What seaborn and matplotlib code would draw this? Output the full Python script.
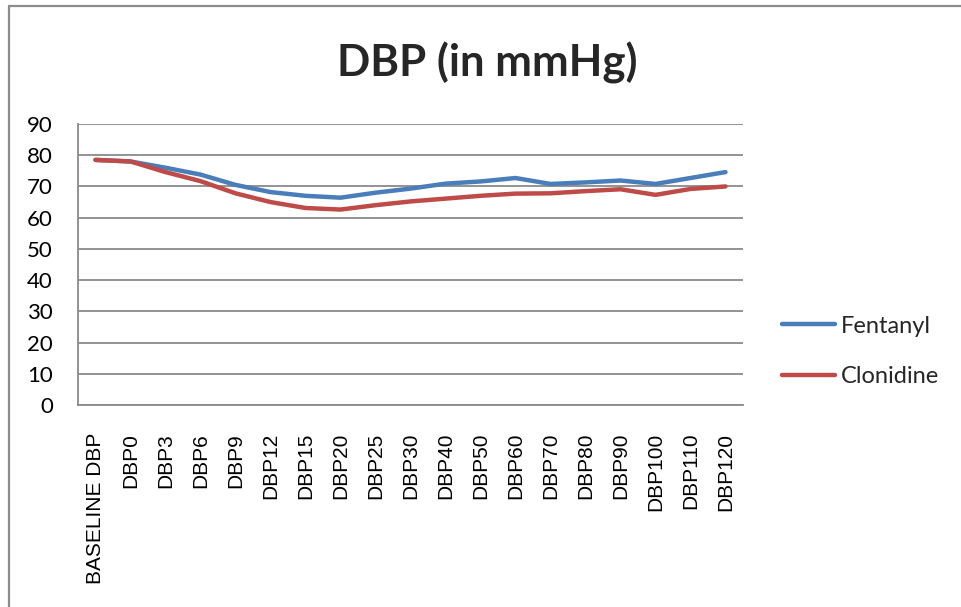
import matplotlib
matplotlib.use("Agg")
import matplotlib.pyplot as plt
from matplotlib.lines import Line2D
import seaborn as sns
import pandas as pd

categories = ["BASELINE DBP", "DBP0", "DBP3", "DBP6", "DBP9", "DBP12", "DBP15",
              "DBP20", "DBP25", "DBP30", "DBP40", "DBP50", "DBP60", "DBP70",
              "DBP80", "DBP90", "DBP100", "DBP110", "DBP120"]
fentanyl = [78.5, 78.0, 76.0, 73.8, 70.5, 68.2, 67.0, 66.4, 68.0, 69.3, 70.9,
            71.6, 72.7, 70.8, 71.3, 71.9, 70.8, 72.7, 74.6]
clonidine = [78.5, 78.0, 74.6, 71.7, 67.8, 65.0, 63.1, 62.6, 64.0, 65.2, 66.1,
             67.0, 67.7, 67.8, 68.5, 69.1, 67.3, 69.2, 70.0]
series_names = ["Fentanyl", "Clonidine"]
yticks = [0, 10, 20, 30, 40, 50, 60, 70, 80, 90]
title = "DBP (in mmHg)"

df = pd.DataFrame({
    "cat": categories * 2,
    "val": fentanyl + clonidine,
    "series": [series_names[0]] * len(categories) + [series_names[1]] * len(categories),
})

sns.set_theme(style="white")
plt.rcParams["font.family"] = ["Lato", "DejaVu Sans"]

W, H = 961, 607
fig = plt.figure(figsize=(W / 100, H / 100), dpi=100)
ax = fig.add_axes([78 / W, 1 - 405 / H, (743 - 78) / W, (405 - 124) / H])

palette = {"Fentanyl": "#4A7EBB", "Clonidine": "#BE4B48"}
sns.lineplot(data=df, x="cat", y="val", hue="series", palette=palette,
             sort=False, linewidth=3.2, ax=ax, legend=False)

ax.set_xlim(-0.5, len(categories) - 0.5)
ax.set_ylim(0, 90)
ax.set_yticks(yticks)
ax.set_xticks(range(len(categories)))
ax.set_xticklabels(categories, rotation=90, fontsize=15,
                   family=["Liberation Sans", "DejaVu Sans"])
ax.set_yticklabels([str(v) for v in yticks], fontsize=16)
ax.tick_params(axis="both", length=0, colors="#000000")
ax.tick_params(axis="y", pad=18)
ax.tick_params(axis="x", pad=20)
ax.set_xlabel("")
ax.set_ylabel("")
ax.yaxis.grid(True, color="#8a8a8a", linewidth=1.3)
ax.xaxis.grid(False)
for s in ["top", "right"]:
    ax.spines[s].set_visible(False)
for s in ["left", "bottom"]:
    ax.spines[s].set_color("#8a8a8a")
    ax.spines[s].set_linewidth(1.3)

fig.text(487 / W, 1 - 63 / H, title, ha="center", va="center",
         fontsize=31.5, fontweight="bold")

handles = [Line2D([], [], color=palette[n], linewidth=3.2) for n in series_names]
fig.legend(handles, series_names, loc="center left",
           bbox_to_anchor=(782 / W, 1 - 351.5 / H), frameon=False,
           fontsize=17, handlelength=2.25, handletextpad=0.25,
           labelspacing=1.27, borderpad=0, borderaxespad=0)

border = "#8c8c8c"
fig.add_artist(Line2D([9 / W, 9 / W], [0, 1 - 6 / H], color=border, linewidth=1.6,
                      transform=fig.transFigure))
fig.add_artist(Line2D([9 / W, 1], [1 - 6 / H, 1 - 6 / H], color=border, linewidth=1.6,
                      transform=fig.transFigure))

fig.savefig("out.png", dpi=100)
